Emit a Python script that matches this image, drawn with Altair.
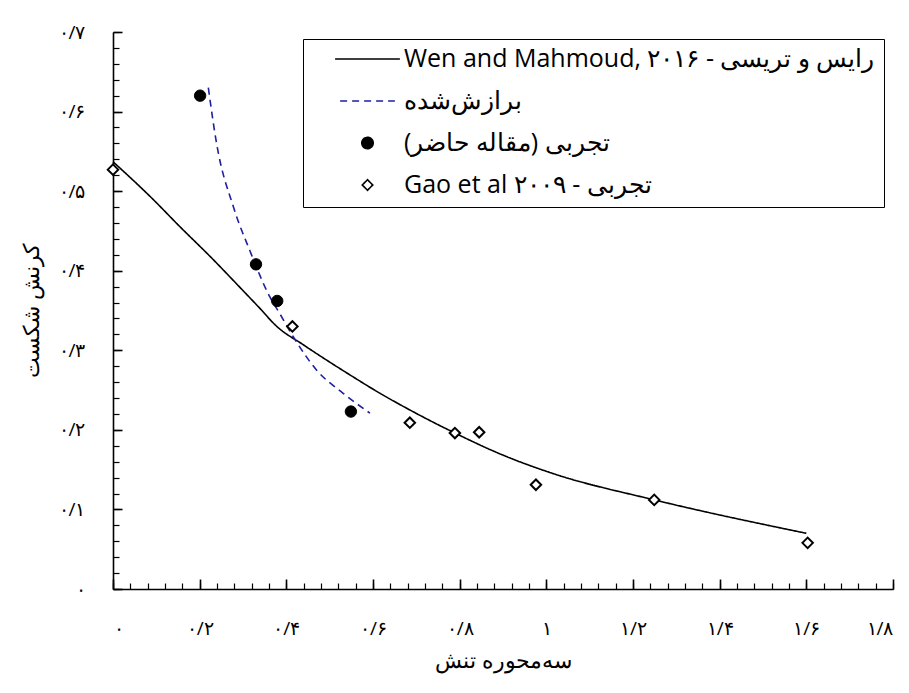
import json
import altair as alt
import pandas as pd

# ---- data ----
series_names = [
    "Wen and Mahmoud, ۲۰۱۶ - رایس و تریسی",
    "برازش‌شده",
    "\u200fتجربی (مقاله حاضر)\u200f",
    "Gao et al ۲۰۰۹ - تجربی",
]

wen_x = [0.0, 0.09, 0.155, 0.224, 0.30, 0.335, 0.378, 0.439, 0.547, 0.616, 0.685, 0.789, 0.901, 1.016, 1.249, 1.60]
wen_y = [0.537, 0.491, 0.455, 0.418, 0.375, 0.355, 0.330, 0.307, 0.269, 0.246, 0.225, 0.196, 0.168, 0.145, 0.112, 0.070]

fit_x = [0.220, 0.239, 0.278, 0.316, 0.362, 0.385, 0.416, 0.470, 0.531, 0.593]
fit_y = [0.630, 0.560, 0.480, 0.425, 0.367, 0.346, 0.317, 0.275, 0.246, 0.221]

exp_x = [0.201, 0.330, 0.379, 0.549]
exp_y = [0.620, 0.408, 0.362, 0.223]

gao_x = [0.0, 0.414, 0.685, 0.789, 0.845, 0.976, 1.249, 1.603]
gao_y = [0.527, 0.330, 0.209, 0.196, 0.197, 0.131, 0.112, 0.058]

x_tick_values = [0, 0.2, 0.4, 0.6, 0.8, 1.0, 1.2, 1.4, 1.6, 1.8]
x_tick_labels = ["۰", "۰/۲", "۰/۴", "۰/۶", "۰/۸", "۱", "۱/۲", "۱/۴", "۱/۶", "۱/۸"]
y_tick_values = [0, 0.1, 0.2, 0.3, 0.4, 0.5, 0.6, 0.7]
y_tick_labels = ["۰", "۰/۱", "۰/۲", "۰/۳", "۰/۴", "۰/۵", "۰/۶", "۰/۷"]
x_minor_values = [round(i * 0.04, 2) for i in range(46)]
y_minor_values = [round(i * 0.02, 2) for i in range(36)]

x_title = "سه‌محوره تنش"
y_title = "کرنش شکست"


def frame(xs, ys, name):
    return pd.DataFrame({"x": xs, "y": ys, "series": name})


wen_df = frame(wen_x, wen_y, series_names[0])
fit_df = frame(fit_x, fit_y, series_names[1])
exp_df = frame(exp_x, exp_y, series_names[2])
gao_df = frame(gao_x, gao_y, series_names[3])

# ---- scales ----
x_scale = alt.Scale(domain=[0, 1.8], nice=False, zero=False)
y_scale = alt.Scale(domain=[0, 0.7], nice=False, zero=False)
stroke_scale = alt.Scale(domain=series_names, range=["black", "#1f1f9f", "black", "black"])
dash_scale = alt.Scale(domain=series_names, range=[[1, 0], [7, 5], [1, 0], [1, 0]])
shape_scale = alt.Scale(domain=series_names, range=["stroke", "stroke", "circle", "diamond"])
fill_scale = alt.Scale(domain=series_names, range=["transparent", "transparent", "black", "white"])
size_scale = alt.Scale(type="ordinal", domain=series_names, range=[4200, 3000, 130, 110])

leg = alt.Legend(title=None)

x_lab_expr = json.dumps(x_tick_labels, ensure_ascii=False) + "[round(datum.value*5)]"
y_lab_expr = json.dumps(y_tick_labels, ensure_ascii=False) + "[round(datum.value*10)]"

# axes: labels + domain
x_axis_lab = alt.Axis(orient="bottom", values=x_tick_values, labelExpr=x_lab_expr, ticks=False, tickSize=0,
                      grid=False, domain=True, domainColor="black", domainWidth=1.6, title=x_title,
                      labelPadding=30, titlePadding=12, labelFontSize=19, titleFontSize=22)
y_axis_lab = alt.Axis(orient="left", values=y_tick_values, labelExpr=y_lab_expr, ticks=False, tickSize=0,
                      grid=False, domain=True, domainColor="black", domainWidth=1.6, title=y_title,
                      labelPadding=28, titlePadding=15, labelFontSize=19, titleFontSize=22)
# minor ticks (inward)
x_axis_minor = alt.Axis(orient="bottom", values=x_minor_values, labels=False, domain=False, grid=False,
                        ticks=True, tickSize={"expr": "-6"}, tickColor="black", tickWidth=1.2, title=None)
y_axis_minor = alt.Axis(orient="left", values=y_minor_values, labels=False, domain=False, grid=False,
                        ticks=True, tickSize={"expr": "-6"}, tickColor="black", tickWidth=1.2, title=None)
# major ticks (inward)
x_axis_major = alt.Axis(orient="bottom", values=x_tick_values, labels=False, domain=False, grid=False,
                        ticks=True, tickSize={"expr": "-10"}, tickColor="black", tickWidth=1.6, title=None)
y_axis_major = alt.Axis(orient="left", values=y_tick_values, labels=False, domain=False, grid=False,
                        ticks=True, tickSize={"expr": "-9"}, tickColor="black", tickWidth=1.6, title=None)

wen_layer = alt.Chart(wen_df).mark_line(strokeWidth=1.6, interpolate="monotone").encode(
    x=alt.X("x:Q", scale=x_scale, axis=x_axis_lab),
    y=alt.Y("y:Q", scale=y_scale, axis=y_axis_lab),
    stroke=alt.Stroke("series:N", scale=stroke_scale, legend=leg),
    strokeDash=alt.StrokeDash("series:N", scale=dash_scale, legend=leg),
)

fit_layer = alt.Chart(fit_df).mark_line(strokeWidth=1.6, interpolate="monotone").encode(
    x=alt.X("x:Q", scale=x_scale, axis=x_axis_minor),
    y=alt.Y("y:Q", scale=y_scale, axis=y_axis_minor),
    stroke=alt.Stroke("series:N", scale=stroke_scale, legend=leg),
    strokeDash=alt.StrokeDash("series:N", scale=dash_scale, legend=leg),
)

exp_layer = alt.Chart(exp_df).mark_point(filled=True, strokeWidth=1, opacity=1).encode(
    x=alt.X("x:Q", scale=x_scale, axis=x_axis_major),
    y=alt.Y("y:Q", scale=y_scale, axis=y_axis_major),
    stroke=alt.Stroke("series:N", scale=stroke_scale, legend=leg),
    fill=alt.Fill("series:N", scale=fill_scale, legend=leg),
    shape=alt.Shape("series:N", scale=shape_scale, legend=leg),
    size=alt.Size("series:N", scale=size_scale, legend=leg),
)

gao_layer = alt.Chart(gao_df).mark_point(filled=True, strokeWidth=2, opacity=1).encode(
    x=alt.X("x:Q", scale=x_scale, axis=None),
    y=alt.Y("y:Q", scale=y_scale, axis=None),
    stroke=alt.Stroke("series:N", scale=stroke_scale, legend=leg),
    fill=alt.Fill("series:N", scale=fill_scale, legend=leg),
    shape=alt.Shape("series:N", scale=shape_scale, legend=leg),
    size=alt.Size("series:N", scale=size_scale, legend=leg),
)

chart = (
    alt.layer(wen_layer, fit_layer, exp_layer, gao_layer)
    .resolve_axis(x="independent", y="independent")
    .properties(
        width=780,
        height=557,
        autosize=alt.AutoSizeParams(type="none"),
        padding={"left": 105, "top": 24, "right": 8, "bottom": 90},
    )
    .configure_view(stroke=None)
    .configure_axis(labelFont="Open Sans", titleFont="Open Sans", titleFontWeight="normal",
                    labelColor="black", titleColor="black")
    .configure_legend(
        orient="none", legendX=190, legendY=7,
        strokeColor="black", fillColor="white", padding=9, cornerRadius=0,
        labelFont="Open Sans", labelFontSize=25, labelColor="black", labelLimit=700,
        rowPadding=17, labelOffset=3, symbolStrokeWidth=1.6, clipHeight=22,
        symbolOffset=22,
    )
)

chart.save("out.html", embed_options={"renderer": "svg", "actions": False})
